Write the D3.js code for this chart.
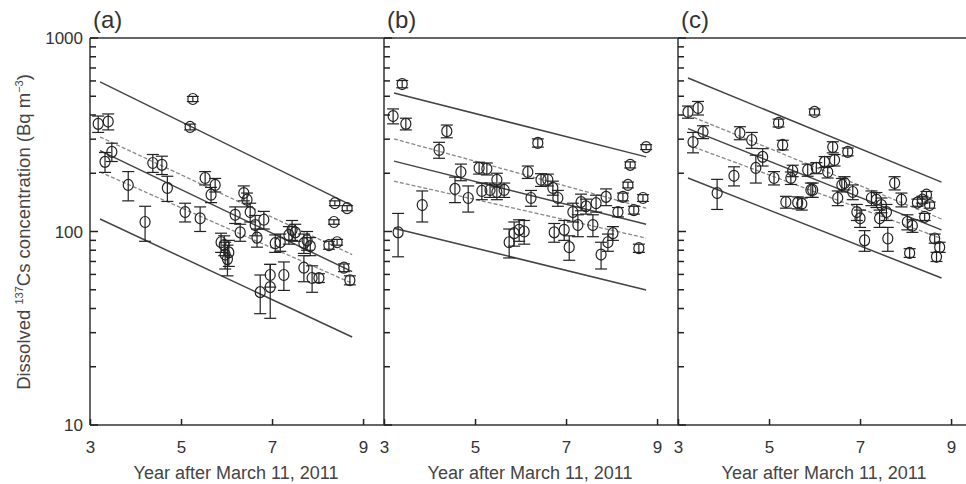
<!DOCTYPE html>
<html lang="en">
<head>
<meta charset="UTF-8">
<title>Dissolved 137Cs</title>
<style>
  body { margin: 0; background: #fff; }
  text { font-family: "Liberation Sans", Arial, sans-serif; }
</style>
</head>
<body>
<svg id="chart" width="966" height="484"></svg>
<script src="https://cdn.jsdelivr.net/npm/d3@7"></script>
<script>
// [year, concentration, error]
const pointsA = [
  [3.18, 360, 35], [3.40, 370, 35], [3.33, 229, 27], [3.48, 258, 28], [3.84, 174, 30],
  [4.21, 112, 23], [4.38, 226, 24], [4.58, 221, 24], [4.70, 168, 25], [5.26, 484, 15],
  [5.20, 347, 12], [5.09, 126, 14], [5.42, 117, 17], [5.53, 189, 15], [5.75, 174, 14],
  [5.66, 155, 14], [5.88, 88, 10], [5.97, 76, 12], [5.95, 85, 10], [6.05, 78, 12],
  [6.02, 72, 13], [6.30, 99, 10], [6.19, 122, 12], [6.38, 158, 14], [6.45, 146, 12],
  [6.52, 126, 14], [6.63, 108, 13], [6.67, 93, 10], [6.82, 115, 12], [6.74, 48.6, 11],
  [6.96, 51.6, 16], [6.96, 59.6, 8], [7.26, 59.6, 10], [7.07, 87, 9], [7.18, 88, 9],
  [7.37, 96, 10], [7.44, 102, 12], [7.51, 99, 10], [7.70, 87, 10], [7.77, 90, 10],
  [7.84, 84, 9], [7.70, 65, 10], [7.88, 57.5, 9], [8.03, 57.5, 3], [8.25, 85, 4],
  [8.43, 88, 3], [8.36, 112, 3], [8.38, 140, 4], [8.65, 132, 4], [8.58, 65, 3],
  [8.71, 56, 3]
];
const pointsB = [
  [3.40, 578, 25], [3.20, 395, 35], [3.48, 360, 25], [4.38, 330, 25], [4.21, 264, 25],
  [3.31, 99, 25], [3.84, 137, 25], [4.56, 166, 25], [4.69, 203, 20], [4.85, 149, 23],
  [5.09, 213, 15], [5.26, 211, 15], [5.15, 162, 16], [5.33, 164, 14], [5.48, 185, 15],
  [5.48, 160, 14], [5.64, 164, 14], [5.75, 88, 15], [5.86, 98, 14], [5.97, 102, 13],
  [6.08, 100, 14], [6.38, 287, 14], [6.16, 203, 15], [6.23, 149, 14], [6.45, 185, 14],
  [6.60, 185, 13], [6.71, 168, 14], [6.82, 149, 14], [6.74, 99, 11], [6.96, 102, 12],
  [7.07, 83, 12], [7.15, 126, 14], [7.33, 142, 14], [7.26, 108, 14], [7.44, 135, 12],
  [7.59, 108, 14], [7.66, 140, 14], [7.88, 151, 15], [7.77, 76, 12], [7.92, 88, 9],
  [8.03, 98, 8], [8.14, 126, 7], [8.25, 151, 7], [8.36, 174, 6], [8.41, 221, 8],
  [8.49, 129, 6], [8.69, 149, 6], [8.76, 273, 8], [8.60, 82, 4]
];
const pointsC = [
  [3.22, 415, 30], [3.44, 435, 35], [3.33, 290, 35], [3.55, 327, 25], [3.86, 158, 28],
  [4.23, 194, 22], [4.36, 323, 25], [4.62, 297, 28], [4.71, 213, 35], [4.86, 243, 25],
  [5.11, 189, 15], [5.21, 364, 17], [5.30, 280, 16], [5.37, 142, 10], [5.48, 189, 14],
  [5.52, 206, 14], [5.63, 141, 10], [5.72, 139, 10], [5.85, 208, 15], [5.92, 164, 14],
  [6.00, 415, 15], [6.04, 213, 14], [5.96, 164, 14], [6.22, 229, 15], [6.40, 273, 18],
  [6.44, 234, 16], [6.29, 203, 14], [6.73, 258, 12], [6.60, 174, 14], [6.66, 178, 14],
  [6.51, 149, 13], [6.84, 160, 14], [6.93, 126, 12], [7.00, 117, 12], [7.10, 90, 11],
  [7.25, 149, 13], [7.36, 146, 13], [7.47, 137, 12], [7.43, 117, 12], [7.58, 126, 12],
  [7.61, 92, 13], [7.76, 178, 14], [7.91, 146, 12], [8.04, 112, 10], [8.09, 77.5, 4],
  [8.15, 107, 8], [8.26, 141, 6], [8.37, 146, 6], [8.46, 155, 6], [8.53, 137, 5],
  [8.42, 119, 5], [8.64, 92, 5], [8.75, 83, 5], [8.68, 74, 4]
];

// fitted lines: [start, end] as [year, concentration]
const fitA = [[3.22, 262], [8.76, 62]];
const confUpA = [[3.22, 308], [8.76, 76]];
const confLoA = [[3.22, 203], [8.76, 54]];
const predUpA = [[3.22, 593], [8.76, 136]];
const predLoA = [[3.22, 116], [8.76, 28.5]];

const fitB = [[3.22, 231], [8.76, 109]];
const confUpB = [[3.22, 301], [8.76, 132]];
const confLoB = [[3.22, 182], [8.76, 92.5]];
const predUpB = [[3.22, 520], [8.76, 243]];
const predLoB = [[3.22, 104], [8.76, 49.9]];

const fitC = [[3.22, 340], [8.79, 102]];
const confUpC = [[3.22, 400], [8.79, 116]];
const confLoC = [[3.22, 280], [8.79, 92]];
const predUpC = [[3.22, 621], [8.79, 180]];
const predLoC = [[3.22, 189], [8.79, 57.5]];

const panelLabels = ["(a)", "(b)", "(c)"];
const xTicks = [3, 5, 7, 9];
const yTicks = [10, 100, 1000];

const panels = [
  { pts: pointsA, fit: fitA, cu: confUpA, cl: confLoA, pu: predUpA, pl: predLoA },
  { pts: pointsB, fit: fitB, cu: confUpB, cl: confLoB, pu: predUpB, pl: predLoB },
  { pts: pointsC, fit: fitC, cu: confUpC, cl: confLoC, pu: predUpC, pl: predLoC }
];

let svg = d3.select("#chart");
let left0 = 90, plotTop = 38, plotBottom = 425, pw = 294;

let y = d3.scaleLog().domain([10, 1000]).range([plotBottom, plotTop]);
let x = d3.scaleLinear().domain([3, 9.46]).range([0, pw]);
let line = d3.line().x(d => x(d[0])).y(d => y(d[1]));

panels.forEach((p, i) => {
  let g = svg.append("g").attr("transform", `translate(${left0 + i * pw},0)`);

  // frame
  g.append("line").attr("x1", 0).attr("x2", pw).attr("y1", plotTop).attr("y2", plotTop)
    .attr("stroke", "#333").attr("stroke-width", 1.5);
  g.append("line").attr("x1", 0).attr("x2", pw).attr("y1", plotBottom).attr("y2", plotBottom)
    .attr("stroke", "#333").attr("stroke-width", 1.5);
  g.append("line").attr("x1", 0).attr("x2", 0).attr("y1", plotTop).attr("y2", plotBottom)
    .attr("stroke", "#333").attr("stroke-width", 1.5);

  // y ticks pointing inward (minor + major)
  g.append("g").selectAll("line").data(y.ticks()).enter().append("line")
    .attr("x1", 0).attr("x2", d => yTicks.includes(d) ? 8 : 6)
    .attr("y1", d => y(d)).attr("y2", d => y(d))
    .attr("stroke", "#222").attr("stroke-width", 1.5);

  // x ticks pointing up
  let xa = g.append("g").attr("transform", `translate(0,${plotBottom})`)
    .call(d3.axisBottom(x).tickValues(xTicks).tickFormat(d3.format("d"))
      .tickSizeInner(-6).tickSizeOuter(0).tickPadding(16));
  xa.select(".domain").remove();
  xa.selectAll(".tick line").attr("stroke", "#222").attr("stroke-width", 1.5);
  xa.selectAll(".tick text").attr("font-size", 17).attr("fill", "#333")
    .attr("font-family", "Liberation Sans, Arial, sans-serif");

  // fitted lines
  [p.pu, p.pl, p.fit].forEach(d => {
    g.append("path").datum(d).attr("d", line).attr("fill", "none")
      .attr("stroke", "#444").attr("stroke-width", 1.5);
  });
  [p.cu, p.cl].forEach(d => {
    g.append("path").datum(d).attr("d", line).attr("fill", "none")
      .attr("stroke", "#888").attr("stroke-width", 1.3).attr("stroke-dasharray", "4,2");
  });

  // error bars
  let eb = g.append("g").selectAll("g").data(p.pts).enter().append("g")
    .attr("stroke", "#222").attr("stroke-width", 1.2).attr("fill", "none");
  eb.append("line").attr("x1", d => x(d[0])).attr("x2", d => x(d[0]))
    .attr("y1", d => y(d[1] + d[2])).attr("y2", d => y(d[1] - d[2]));
  eb.append("line").attr("x1", d => x(d[0]) - 6).attr("x2", d => x(d[0]) + 6)
    .attr("y1", d => y(d[1] + d[2])).attr("y2", d => y(d[1] + d[2]));
  eb.append("line").attr("x1", d => x(d[0]) - 6).attr("x2", d => x(d[0]) + 6)
    .attr("y1", d => y(d[1] - d[2])).attr("y2", d => y(d[1] - d[2]));
  eb.append("ellipse").attr("cx", d => x(d[0])).attr("cy", d => y(d[1]))
    .attr("rx", 5).attr("ry", 5.5);

  // panel label
  g.append("text").attr("x", 3).attr("y", 28).attr("font-size", 24).attr("fill", "#333")
    .text(panelLabels[i]);

  g.append("text").attr("x", pw / 2 - 1).attr("y", 479).attr("text-anchor", "middle")
    .attr("font-size", 18).attr("fill", "#444").text("Year after March 11, 2011");
});

// y tick labels on the first panel
svg.append("g").selectAll("text").data(yTicks).enter().append("text")
  .attr("x", left0 - 7).attr("y", d => y(d) + 6).attr("text-anchor", "end")
  .attr("font-size", 17).attr("fill", "#333").text(d => d);

// y axis title
let yt = svg.append("text").attr("transform", "translate(30,232) rotate(-90)")
  .attr("text-anchor", "middle").attr("font-size", 18.5).attr("fill", "#444");
yt.append("tspan").text("Dissolved ");
yt.append("tspan").attr("font-size", 11).attr("dy", -7).text("137");
yt.append("tspan").attr("dy", 7).text("Cs concentration (Bq m");
yt.append("tspan").attr("font-size", 11).attr("dy", -7).text("−3");
yt.append("tspan").attr("dy", 7).text(")");
</script>
</body>
</html>
